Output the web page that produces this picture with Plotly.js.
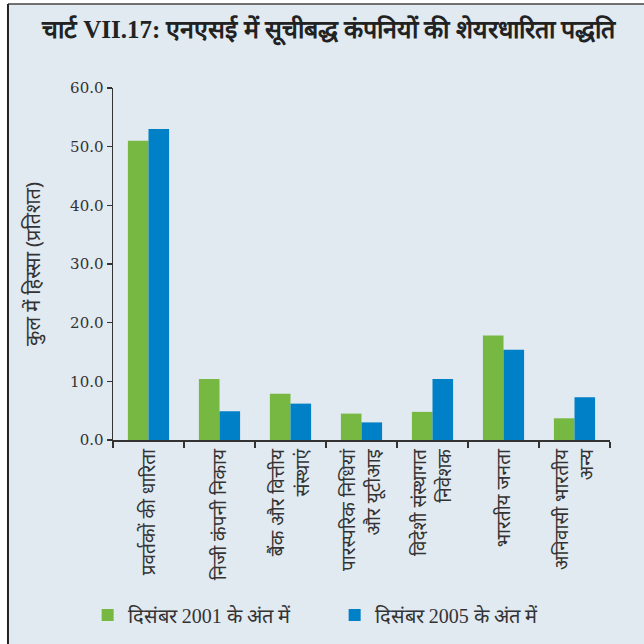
<!DOCTYPE html>
<html>
<head>
<meta charset="utf-8">
<script src="https://cdn.plot.ly/plotly-3.0.1.min.js"></script>
<style>html,body{margin:0;padding:0;background:#fff;}#chart{width:644px;height:644px;}</style>
</head>
<body>
<div id="chart"></div>
<script>
const categories = [
  "प्रवर्तकों की धारिता",
  "निजी कंपनी निकाय",
  "बैंक और वित्तीय<br>संस्थाएं",
  "पारस्परिक निधियां<br>और यूटीआइ",
  "विदेशी संस्थागत<br>निवेशक",
  "भारतीय जनता",
  "अनिवासी भारतीय<br>अन्य"
];
const dec2001 = [51.0, 10.4, 7.9, 4.5, 4.8, 17.8, 3.7];
const dec2005 = [53.0, 4.9, 6.2, 3.0, 10.4, 15.4, 7.3];
const seriesNames = ["दिसंबर 2001 के अंत में", "दिसंबर 2005 के अंत में"];
const yTicks = [0, 10, 20, 30, 40, 50, 60];

const BG = "#e1e9f1";
const traces = [
  {type: "bar", x: categories, y: dec2001, name: seriesNames[0], marker: {color: "#77b843"}},
  {type: "bar", x: categories, y: dec2005, name: seriesNames[1], marker: {color: "#0080c6"}}
];

const layout = {
  width: 644, height: 644,
  margin: {l: 113, r: 34, t: 88, b: 204, pad: 0, autoexpand: false},
  paper_bgcolor: BG,
  plot_bgcolor: "rgba(0,0,0,0)",
  barmode: "group",
  bargap: 0.42,
  bargroupgap: 0,
  font: {family: "DejaVu Serif, serif", color: "#333"},
  title: {
    text: "<b>चार्ट VII.17: एनएसई में सूचीबद्ध कंपनियों की शेयरधारिता पद्धति</b>",
    font: {size: 25, color: "#222", family: "Liberation Serif, serif"},
    x: 0.51, xanchor: "center", y: 0.955, yanchor: "middle"
  },
  xaxis: {
    type: "category",
    automargin: false,
    tickson: "boundaries",
    ticks: "outside", ticklen: 6, tickcolor: "#333", tickwidth: 1.2,
    showline: true, linecolor: "#333", linewidth: 1.5,
    tickangle: -90,
    tickfont: {size: 19, color: "#333", family: "Noto Sans, sans-serif"},
    showgrid: false, zeroline: false
  },
  yaxis: {
    range: [0, 60],
    automargin: false,
    tickvals: yTicks,
    tickformat: ".1f",
    ticks: "outside", ticklen: 5, tickcolor: "#333", tickwidth: 1.2,
    showline: true, linecolor: "#333", linewidth: 1.5,
    tickfont: {size: 15, color: "#333", family: "DejaVu Serif, serif"},
    showgrid: false, zeroline: false,
    title: {text: "कुल में हिस्सा (प्रतिशत)", font: {size: 20, color: "#333", family: "Noto Sans, sans-serif"}, standoff: 24}
  },
  legend: {
    orientation: "h",
    x: -0.051, xanchor: "left",
    y: -0.497, yanchor: "middle",
    bgcolor: "rgba(0,0,0,0)",
    font: {size: 20, color: "#333", family: "Liberation Serif, serif"},
    entrywidth: 202, entrywidthmode: "pixels"
  },
  showlegend: true,
  shapes: [
    {type: "rect", xref: "paper", yref: "paper", x0: -0.3, x1: 1.2, y0: 1.2386, y1: 1.4, fillcolor: "#fff", line: {width: 0}, layer: "above"},
    {type: "rect", xref: "paper", yref: "paper", x0: -0.3, x1: -0.2113, y0: -0.7, y1: 1.4, fillcolor: "#fff", line: {width: 0}, layer: "above"},
    {type: "line", xref: "paper", yref: "paper", x0: -0.2113, x1: 1.2, y0: 1.2386, y1: 1.2386, line: {color: "#444", width: 1.5}, layer: "above"},
    {type: "line", xref: "paper", yref: "paper", x0: -0.2113, x1: -0.2113, y0: -0.7, y1: 1.2386, line: {color: "#222", width: 2}, layer: "above"}
  ]
};

Plotly.newPlot("chart", traces, layout, {displayModeBar: false, staticPlot: true});
</script>
</body>
</html>
